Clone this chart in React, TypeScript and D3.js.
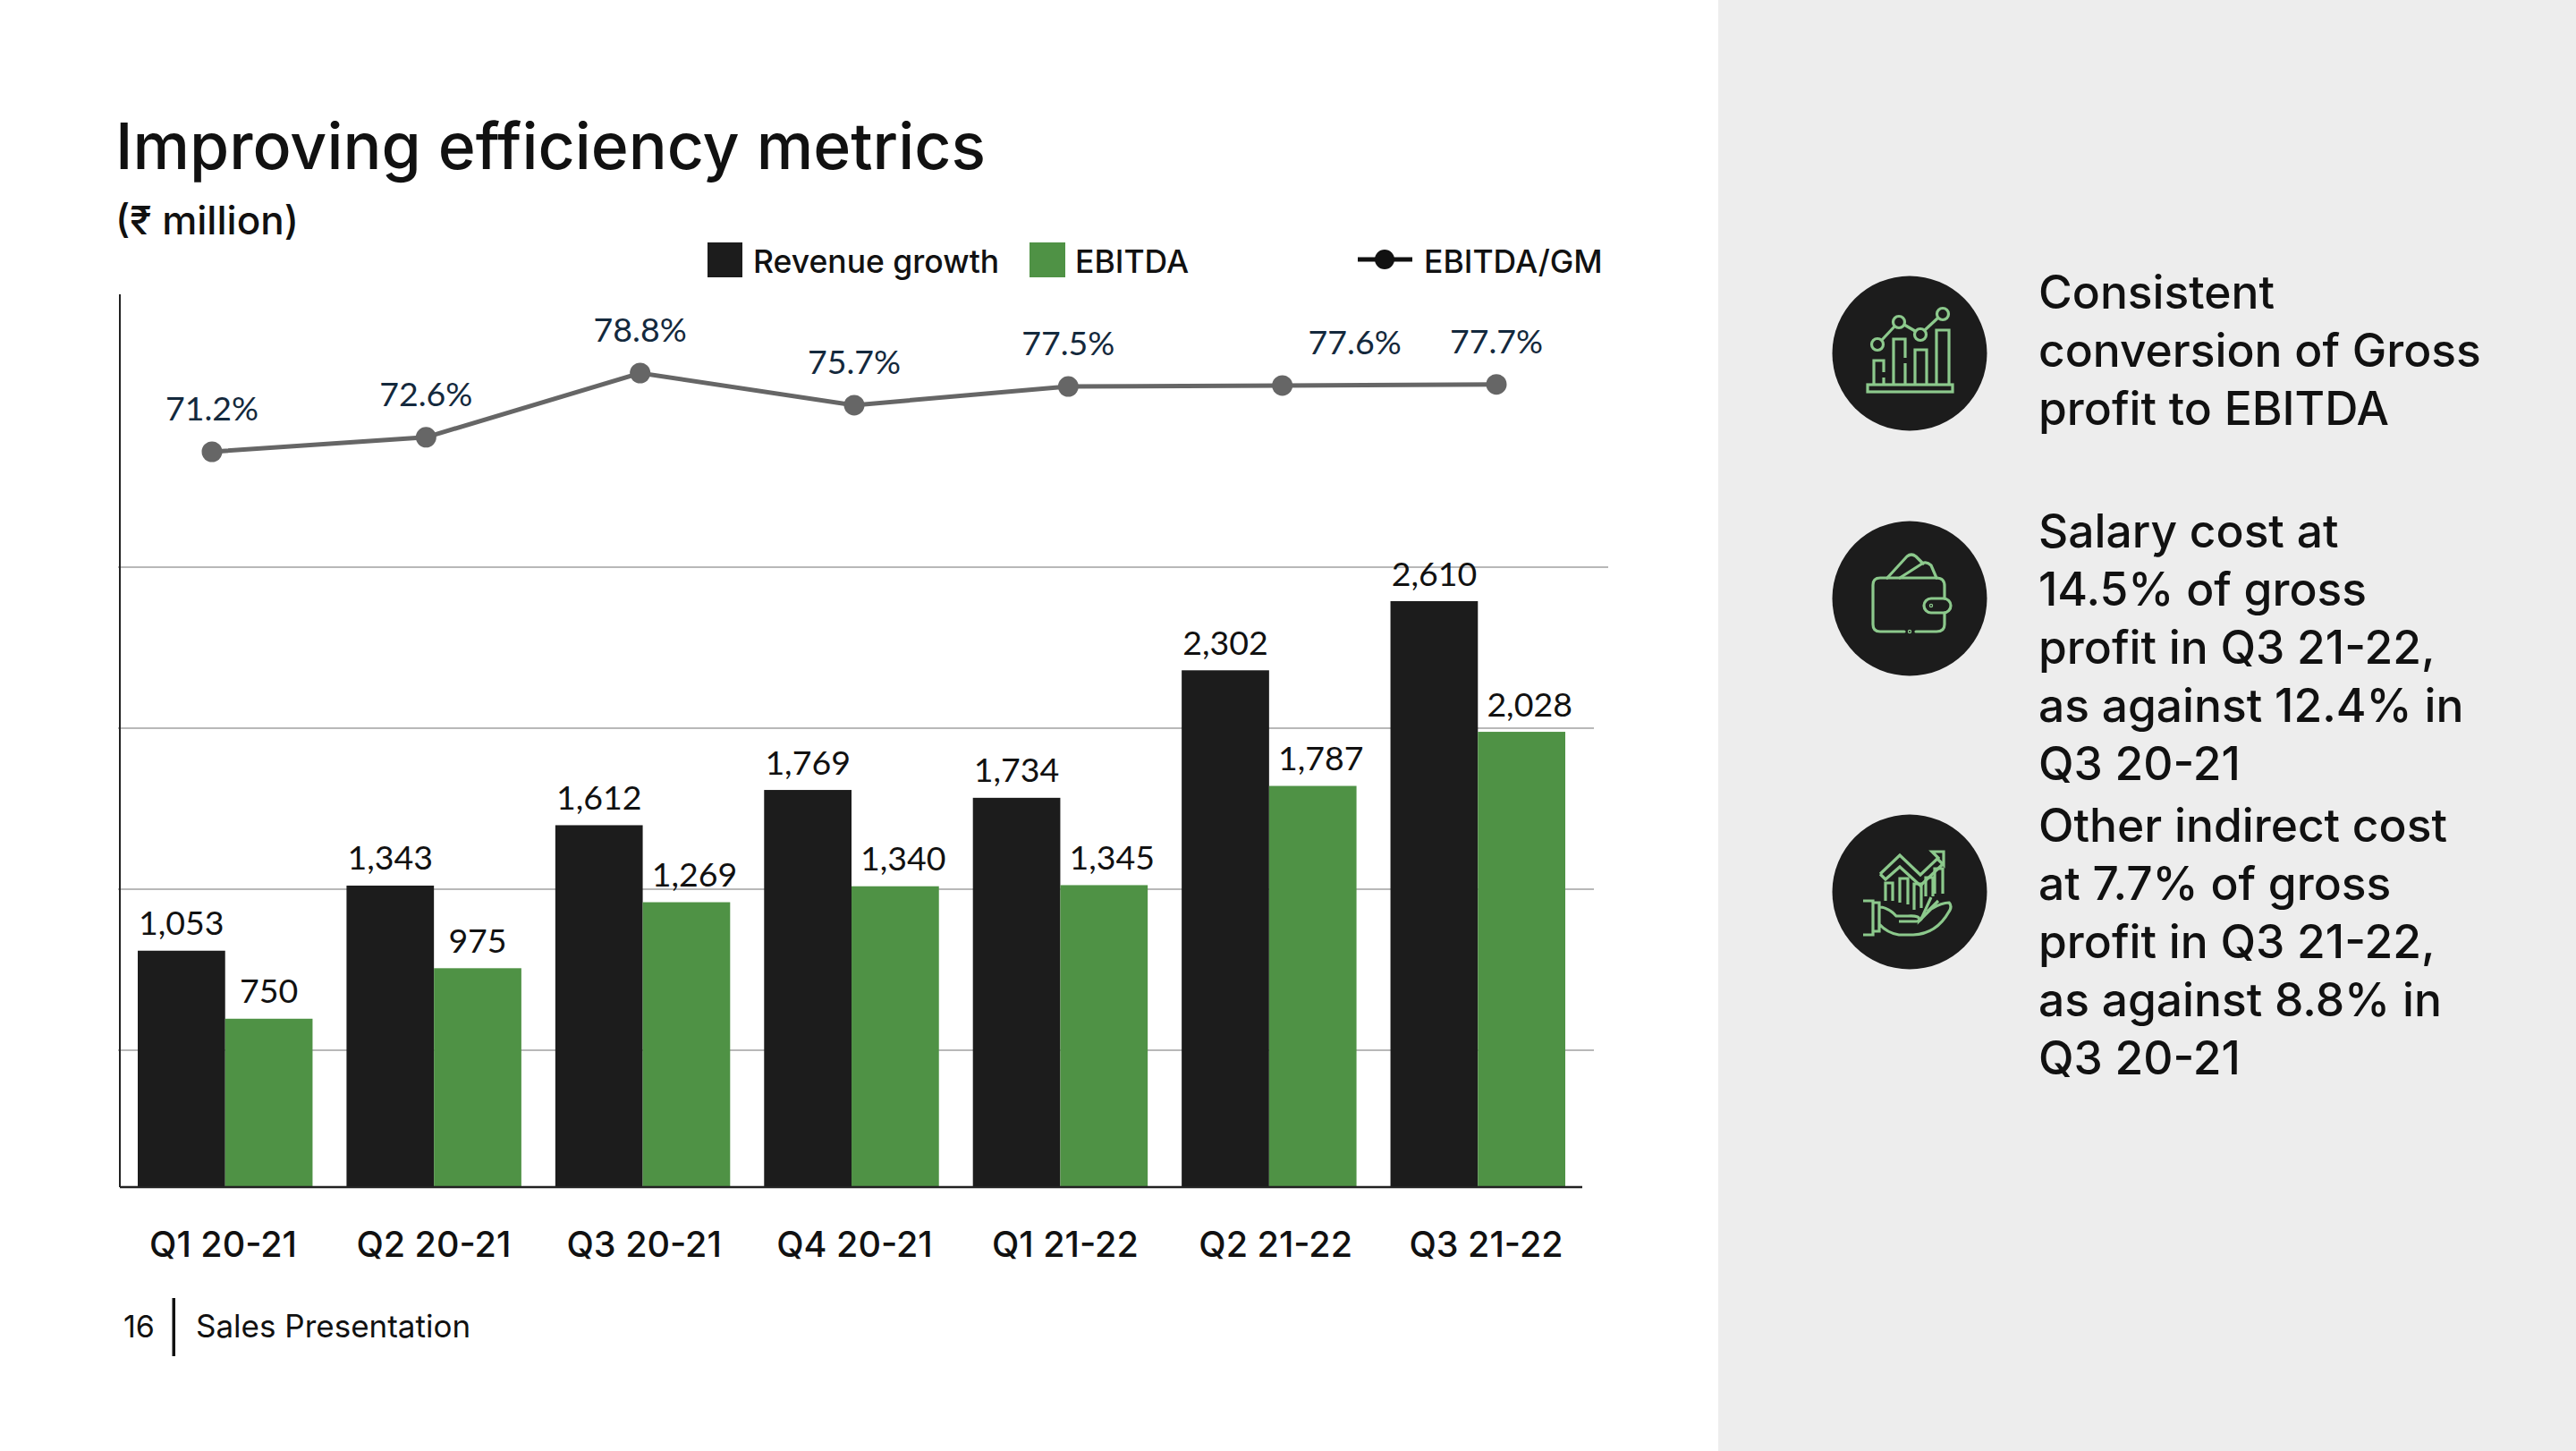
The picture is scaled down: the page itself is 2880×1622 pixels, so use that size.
import * as d3 from "d3";
import { useEffect, useRef } from "react";

const quarters = ["Q1 20-21", "Q2 20-21", "Q3 20-21", "Q4 20-21", "Q1 21-22", "Q2 21-22", "Q3 21-22"];
const revenue = [1053, 1343, 1612, 1769, 1734, 2302, 2610];
const ebitda = [750, 975, 1269, 1340, 1345, 1787, 2028];
const ebitdaGm = [71.2, 72.6, 78.8, 75.7, 77.5, 77.6, 77.7];
const gridValues = [610, 1327, 2044, 2761];
const seriesNames = ["Revenue growth", "EBITDA", "EBITDA/GM"];
const notes = [
  ["Consistent", "conversion of Gross", "profit to EBITDA"],
  ["Salary cost at", "14.5% of gross", "profit in Q3 21-22,", "as against 12.4% in", "Q3 20-21"],
  ["Other indirect cost", "at 7.7% of gross", "profit in Q3 21-22,", "as against 8.8% in", "Q3 20-21"],
];

const width = 2880;
const height = 1622;
const plotLeft = 134;
const plotRight = 1769;
const baseline = 1327;
const black = "#1c1c1c";
const green = "#4f9245";
const iconGreen = "#8cc98c";
const textFont = "Inter, 'Noto Sans', sans-serif";
const labelFont = "Lato, 'Open Sans', sans-serif";

export default function App() {
  const svgRef = useRef<SVGSVGElement>(null);

  useEffect(() => {
    const svg = d3.select(svgRef.current);
    svg.select("#chart").remove();
    const g = svg.append("g").attr("id", "chart");

    const x = d3.scaleBand().domain(quarters).range([plotLeft + 1, plotRight]).paddingInner(0.1627).paddingOuter(0.0814);
    const xSeries = d3.scaleBand().domain(["revenue", "ebitda"]).range([0, x.bandwidth()]);
    const y = d3.scaleLinear().domain([0, 2610]).range([baseline, 672]);
    // the line and the tick labels do not sit exactly on the bar groups
    const xLine = d3.scalePoint().domain(quarters).range([237, 1673]);
    const yLine = d3.scaleLinear().domain([71.2, 78.8]).range([505, 417]);
    const xLabel = d3.scalePoint().domain(quarters).range([249, 1661]);

    // grid
    g.append("g")
      .selectAll("line")
      .data(gridValues)
      .join("line")
      .attr("x1", 132)
      .attr("x2", (d) => (d === 2761 ? 1798 : 1782))
      .attr("y1", (d) => y(d))
      .attr("y2", (d) => y(d))
      .attr("stroke", "#b8b8b8")
      .attr("stroke-width", 2);

    // bars
    const bars = (values: number[], key: string, fill: string) => {
      g.append("g")
        .attr("fill", fill)
        .selectAll("rect")
        .data(values)
        .join("rect")
        .attr("x", (_, i) => x(quarters[i])! + xSeries(key)!)
        .attr("y", (d) => y(d))
        .attr("width", xSeries.bandwidth())
        .attr("height", (d) => y(0) - y(d));
    };
    bars(revenue, "revenue", black);
    bars(ebitda, "ebitda", green);

    // bar labels
    const barLabels = (values: number[], key: string, shift: (d: number) => number) => {
      g.append("g")
        .attr("font-family", labelFont)
        .attr("font-size", 37.5)
        .attr("fill", "#111")
        .attr("text-anchor", "middle")
        .selectAll("text")
        .data(values)
        .join("text")
        .attr("x", (d, i) => x(quarters[i])! + xSeries(key)! + xSeries.bandwidth() / 2 + shift(d))
        .attr("y", (d) => y(d) - 17.5)
        .text((d) => d3.format(",")(d));
    };
    barLabels(revenue, "revenue", () => 0);
    barLabels(ebitda, "ebitda", (d) => (d >= 1000 ? 9 : 0));

    // axes
    g.append("line").attr("x1", plotLeft).attr("x2", plotLeft).attr("y1", 329).attr("y2", baseline).attr("stroke", "#222").attr("stroke-width", 2);
    g.append("line").attr("x1", plotLeft).attr("x2", plotRight).attr("y1", baseline).attr("y2", baseline).attr("stroke", "#222").attr("stroke-width", 2.5);
    const axis = g
      .append("g")
      .attr("transform", `translate(0,${baseline})`)
      .call(d3.axisBottom(xLabel).tickSize(0).tickPadding(78));
    axis.select(".domain").remove();
    axis.selectAll("text").attr("font-family", textFont).attr("font-size", 39.5).attr("font-weight", 500).attr("fill", "#111").attr("dy", 0);

    // EBITDA/GM line
    const line = d3
      .line<number>()
      .x((_, i) => xLine(quarters[i])!)
      .y((d) => yLine(d));
    g.append("path").attr("d", line(ebitdaGm)).attr("fill", "none").attr("stroke", "#666").attr("stroke-width", 5);
    g.append("g")
      .attr("fill", "#666")
      .selectAll("circle")
      .data(ebitdaGm)
      .join("circle")
      .attr("cx", (_, i) => xLine(quarters[i])!)
      .attr("cy", (d) => yLine(d))
      .attr("r", 11.5);
    g.append("g")
      .attr("font-family", labelFont)
      .attr("font-size", 37.5)
      .attr("fill", "#14293d")
      .attr("text-anchor", "middle")
      .selectAll("text")
      .data(ebitdaGm)
      .join("text")
      .attr("x", (d, i) => xLine(quarters[i])! + (i === 5 ? 81 : 0))
      .attr("y", (d) => yLine(d) - 35)
      .text((d) => d.toFixed(1) + "%");
  }, []);

  return (
    <svg ref={svgRef} width={width} height={height} style={{ position: "absolute", left: 0, top: 0 }}>
      <rect width={width} height={height} fill="#fff" />
      <rect x={1921} width={959} height={height} fill="#ededed" />

      <text x={129} y={189} fontFamily={textFont} fontSize={71.5} fontWeight={500} fill="#111">Improving efficiency metrics</text>
      <text x={129} y={262} fontFamily={textFont} fontSize={44} fontWeight={500} fill="#111">(₹ million)</text>

      <rect x={791} y={271} width={39} height={39} fill={black} />
      <text x={842} y={305} fontFamily={textFont} fontSize={35.5} fontWeight={500} fill="#111">{seriesNames[0]}</text>
      <rect x={1151} y={271} width={40} height={39} fill={green} />
      <text x={1202} y={305} fontFamily={textFont} fontSize={35.5} fontWeight={500} fill="#111">{seriesNames[1]}</text>
      <line x1={1518} x2={1579} y1={290} y2={290} stroke="#111" strokeWidth={5} />
      <circle cx={1548} cy={290} r={11} fill="#111" />
      <text x={1592} y={305} fontFamily={textFont} fontSize={35.5} fontWeight={500} fill="#111">{seriesNames[2]}</text>

      <text x={138} y={1495} fontFamily={textFont} fontSize={34} fill="#111">16</text>
      <rect x={192.5} y={1451} width={3.5} height={65} fill="#111" />
      <text x={219} y={1495} fontFamily={textFont} fontSize={35} fill="#111">Sales Presentation</text>

      {notes.map((lines, n) => (
        <text key={n} fontFamily={textFont} fontSize={51.5} fontWeight={500} fill="#111">
          {lines.map((t, i) => (
            <tspan key={i} x={2279} y={[345, 612, 941][n] + i * 65}>{t}</tspan>
          ))}
        </text>
      ))}

      <g transform="translate(2135,395)">
        <circle r={86.5} fill={black} />
        <g fill="none" stroke={iconGreen} strokeWidth={3.2}>
          <rect x={-47} y={35} width={95} height={8} />
          <path d="M-40 35V8H-29V21M-29 27V35M-18 35V-16H-5V5M-5 11V35M6 35V-4H19V35M30 35V-26H44V35M30 35V-10M30 -4V-10" />
          <circle cx={-36} cy={-10} r={6.5} />
          <circle cx={-12} cy={-35} r={6.5} />
          <circle cx={12} cy={-21} r={6.5} />
          <circle cx={37} cy={-44} r={6.5} />
          <path d="M-31 -15L-17 -30M-6 -32L6 -25M17 -26L32 -40" />
        </g>
      </g>
      <g transform="translate(2135,669)">
        <circle r={86.5} fill={black} />
        <g fill="none" stroke={iconGreen} strokeWidth={3.2} strokeLinecap="round" strokeLinejoin="round">
          <path d="M-6 37H-33Q-41 37 -41 29V-15Q-41 -23 -33 -23H30Q39 -23 39 -14V0M39 16V29Q39 37 30 37H7" />
          <path d="M-25 -23L-3 -47Q2 -51 7 -47L15 -39M-11 -23L14 -39Q19 -42 24 -37L30 -23" />
          <rect x={16} y={0} width={30} height={16} rx={8} />
          <circle cx={24} cy={8} r={0.6} />
          <circle cx={0} cy={37} r={0.6} />
        </g>
      </g>
      <g transform="translate(2135,997)">
        <circle r={86.5} fill={black} />
        <g fill="none" stroke={iconGreen} strokeWidth={3.2}>
          <path d="M-52 10H-41V48H-52M-41 12H-34V44H-41M-34 17Q-24 17 -15 27H-2Q12 26 11 32L24 19Q36 12 44 12Q48 16 44 22Q30 47 4 48H-12Q-25 46 -34 36" />
          <path d="M-12 33H8Q14 32 14 27M14 28L24 6M20 22L32 10" />
          <path d="M-27 10V-10H-19V10M-11 12V-15H-2V14M5 20V-9H13V18M18 5V-16H26V5M28 2V-26H37V2" />
          <path d="M-33 -20L-11 -41L12 -19L32 -38L25 -45H38V-30L32 -36M-33 -20L-27 -14L-11 -28L12 -7L38 -32" />
        </g>
      </g>
    </svg>
  );
}
